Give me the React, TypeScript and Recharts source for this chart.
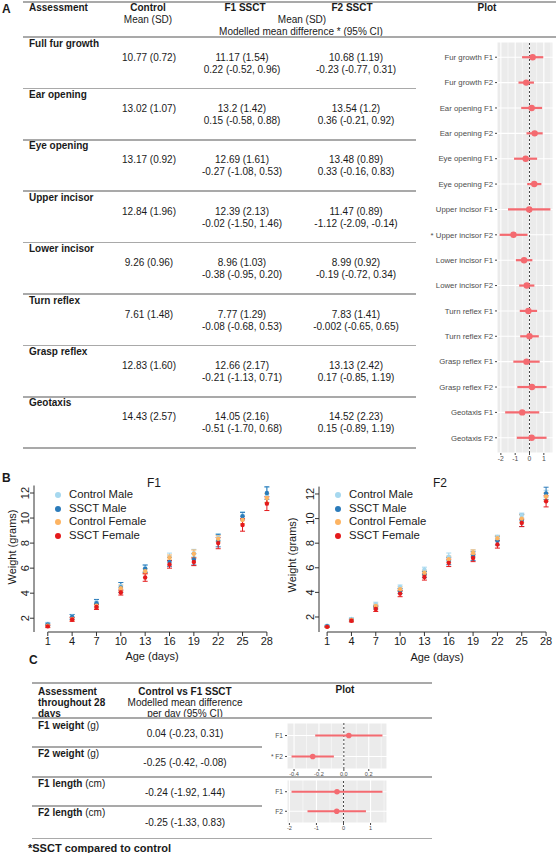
import React from 'react';
import { ScatterChart, Scatter, XAxis, YAxis, CartesianGrid, ErrorBar, ReferenceLine } from 'recharts';

// ---- Panel A: table + forest plot ----
const assessments = ['Full fur growth', 'Ear opening', 'Eye opening', 'Upper incisor', 'Lower incisor', 'Turn reflex', 'Grasp reflex', 'Geotaxis'];
const controlMean = ['10.77 (0.72)', '13.02 (1.07)', '13.17 (0.92)', '12.84 (1.96)', '9.26 (0.96)', '7.61 (1.48)', '12.83 (1.60)', '14.43 (2.57)'];
const f1Mean = ['11.17 (1.54)', '13.2 (1.42)', '12.69 (1.61)', '12.39 (2.13)', '8.96 (1.03)', '7.77 (1.29)', '12.66 (2.17)', '14.05 (2.16)'];
const f1Diff = ['0.22 (-0.52, 0.96)', '0.15 (-0.58, 0.88)', '-0.27 (-1.08, 0.53)', '-0.02 (-1.50, 1.46)', '-0.38 (-0.95, 0.20)', '-0.08 (-0.68, 0.53)', '-0.21 (-1.13, 0.71)', '-0.51 (-1.70, 0.68)'];
const f2Mean = ['10.68 (1.19)', '13.54 (1.2)', '13.48 (0.89)', '11.47 (0.89)', '8.99 (0.92)', '7.83 (1.41)', '13.13 (2.42)', '14.52 (2.23)'];
const f2Diff = ['-0.23 (-0.77, 0.31)', '0.36 (-0.21, 0.92)', '0.33 (-0.16, 0.83)', '-1.12 (-2.09, -0.14)', '-0.19 (-0.72, 0.34)', '-0.002 (-0.65, 0.65)', '0.17 (-0.85, 1.19)', '0.15 (-0.89, 1.19)'];

const forestLabels = ['Fur growth F1', 'Fur growth F2', 'Ear opening F1', 'Ear opening F2', 'Eye opening F1', 'Eye opening F2', 'Upper incisor F1', '* Upper incisor F2', 'Lower incisor F1', 'Lower incisor F2', 'Turn reflex F1', 'Turn reflex F2', 'Grasp reflex F1', 'Grasp reflex F2', 'Geotaxis F1', 'Geotaxis F2'];
const forestEst = [0.22, -0.23, 0.15, 0.36, -0.27, 0.33, -0.02, -1.12, -0.38, -0.19, -0.08, -0.002, -0.21, 0.17, -0.51, 0.15];
const forestLow = [-0.52, -0.77, -0.58, -0.21, -1.08, -0.16, -1.5, -2.09, -0.95, -0.72, -0.68, -0.65, -1.13, -0.85, -1.7, -0.89];
const forestHigh = [0.96, 0.31, 0.88, 0.92, 0.53, 0.83, 1.46, -0.14, 0.2, 0.34, 0.53, 0.65, 0.71, 1.19, 0.68, 1.19];

// ---- Panel B: weights by day ----
const days = [1, 4, 7, 10, 13, 16, 19, 22, 25, 28];
const groupNames = ['Control Male', 'SSCT Male', 'Control Female', 'SSCT Female'];
const groupColors = ['#A6D8EF', '#2B7BBA', '#FDB462', '#E41A1C'];

const f1ControlMale = [1.55, 2.15, 3.3, 4.55, 6.0, 6.9, 7.2, 8.45, 10.2, 11.85];
const f1ControlMaleSd = [0.12, 0.15, 0.2, 0.3, 0.25, 0.3, 0.3, 0.3, 0.3, 0.6];
const f1SsctMale = [1.5, 2.1, 3.2, 4.45, 5.95, 6.5, 6.7, 8.2, 10.15, 12.0];
const f1SsctMaleSd = [0.1, 0.2, 0.3, 0.4, 0.3, 0.35, 0.45, 0.5, 0.3, 0.5];
const f1ControlFemale = [1.4, 1.95, 3.0, 4.4, 5.75, 6.85, 7.15, 8.35, 9.85, 11.6];
const f1ControlFemaleSd = [0.1, 0.15, 0.2, 0.25, 0.2, 0.2, 0.3, 0.25, 0.3, 0.35];
const f1SsctFemale = [1.35, 1.9, 2.9, 4.05, 5.25, 6.3, 6.5, 8.0, 9.45, 11.15];
const f1SsctFemaleSd = [0.1, 0.15, 0.2, 0.2, 0.3, 0.3, 0.3, 0.45, 0.5, 0.55];

const f2ControlMale = [1.3, 1.85, 3.05, 4.45, 5.85, 6.9, 7.15, 8.5, 10.25, 12.0];
const f2ControlMaleSd = [0.08, 0.1, 0.15, 0.15, 0.2, 0.3, 0.3, 0.15, 0.2, 0.3];
const f2SsctMale = [1.25, 1.75, 2.8, 4.1, 5.45, 6.55, 6.95, 8.2, 9.85, 12.05];
const f2SsctMaleSd = [0.05, 0.1, 0.15, 0.2, 0.25, 0.3, 0.35, 0.35, 0.5, 0.5];
const f2ControlFemale = [1.2, 1.75, 2.9, 4.25, 5.6, 6.7, 7.2, 8.4, 10.0, 11.8];
const f2ControlFemaleSd = [0.05, 0.1, 0.15, 0.2, 0.2, 0.25, 0.25, 0.2, 0.3, 0.3];
const f2SsctFemale = [1.2, 1.7, 2.65, 3.9, 5.25, 6.4, 6.8, 7.9, 9.65, 11.4];
const f2SsctFemaleSd = [0.05, 0.1, 0.2, 0.25, 0.25, 0.3, 0.3, 0.3, 0.3, 0.45];

const weightTicks = [2, 4, 6, 8, 10, 12];

// ---- Panel C ----
const cRows = ['F1 weight', 'F2 weight', 'F1 length', 'F2 length'];
const cUnits = ['(g)', '(g)', '(cm)', '(cm)'];
const cDiff = ['0.04 (-0.23, 0.31)', '-0.25 (-0.42, -0.08)', '-0.24 (-1.92, 1.44)', '-0.25 (-1.33, 0.83)'];
const weightLabels = ['F1', '* F2'];
const weightEst = [0.04, -0.25];
const weightLow = [-0.23, -0.42];
const weightHigh = [0.31, -0.08];
const lengthLabels = ['F1', 'F2'];
const lengthEst = [-0.24, -0.25];
const lengthLow = [-1.92, -1.33];
const lengthHigh = [1.44, 0.83];

const SALMON = '#F46A70';
const LINE = '#A9A9A9';
const INK = '#1a1a1a';

const Txt = ({ x, y, children, size = 10, bold = false, align = 'left', color = INK }: any) => (
  <div
    style={{
      position: 'absolute', left: x, top: y, fontSize: size, fontWeight: bold ? 700 : 400, color,
      whiteSpace: 'nowrap', lineHeight: 1,
      transform: `translate(${align === 'center' ? '-50%' : align === 'right' ? '-100%' : '0'}, -50%)`,
    }}
  >
    {children}
  </div>
);

const HLine = ({ x1, x2, y, w = 1.5 }: any) => (
  <div style={{ position: 'absolute', left: x1, top: y - w / 2, width: x2 - x1, height: w, background: LINE }} />
);

// plain svg tick so long category names never wrap
const CatTick = ({ x, y, payload, labels, fs }: any) => (
  <text x={x} y={y} dy="0.35em" textAnchor="end" fontSize={fs} fill="#4D4D4D">
    {labels[payload.value]}
  </text>
);

const Forest = ({ labels, est, low, high, domain, ticks, minor, fmt, width, height, yw, xh, fs, r, bw, margin }: any) => {
  const data = labels.map((l: string, i: number) => ({ pos: i, est: est[i], ci: [est[i] - low[i], high[i] - est[i]] }));
  return (
    <ScatterChart width={width} height={height} margin={margin}>
      <CartesianGrid fill="#EBEBEB" fillOpacity={1} stroke="#FFFFFF" strokeWidth={1.1} />
      {minor.map((m: number) => (
        <ReferenceLine key={m} x={m} stroke="#FFFFFF" strokeWidth={0.5} />
      ))}
      <ReferenceLine x={0} stroke="#333" strokeWidth={0.9} strokeDasharray="2 2" />
      <XAxis type="number" dataKey="est" domain={domain} ticks={ticks} tickFormatter={fmt} allowDataOverflow
        axisLine={false} tickSize={2} tickMargin={1} interval={0} height={xh}
        tick={{ fontSize: fs, fill: '#4D4D4D' }} tickLine={{ stroke: '#444' }} />
      <YAxis type="number" dataKey="pos" domain={[-0.6, labels.length - 0.4]} reversed allowDataOverflow
        ticks={labels.map((_: string, i: number) => i)} interval={0}
        axisLine={false} tickSize={2} tickMargin={2} width={yw}
        tick={<CatTick labels={labels} fs={fs + 1} />} tickLine={{ stroke: '#444' }} />
      <Scatter data={data} fill={SALMON} isAnimationActive={false}
        shape={(p: any) => <circle cx={p.cx} cy={p.cy} r={r} fill={SALMON} />}>
        <ErrorBar dataKey="ci" direction="x" width={0} stroke={SALMON} strokeWidth={bw} />
      </Scatter>
    </ScatterChart>
  );
};

const RotTick = (props: any) => {
  const { x, y, payload } = props;
  return (
    <text x={x + 1} y={y} transform={`rotate(-90 ${x + 1} ${y})`} textAnchor="middle" fontSize={11} fill={INK}>
      {payload.value}
    </text>
  );
};

const Growth = ({ series, xDomain, yDomain, width, height, margin }: any) => (
  <ScatterChart width={width} height={height} margin={margin}>
    <XAxis type="number" dataKey="day" domain={xDomain} ticks={days} interval={0} allowDataOverflow
      axisLine={false} tickSize={4} tickMargin={1} height={28}
      tick={{ fontSize: 11, fill: INK }} tickLine={{ stroke: '#333' }} />
    <YAxis type="number" dataKey="w" domain={yDomain} ticks={weightTicks} interval={0} allowDataOverflow
      axisLine={{ stroke: '#333' }} tickSize={4} tickMargin={2} width={34}
      tick={<RotTick />} tickLine={{ stroke: '#333' }} />
    <ReferenceLine segment={[{ x: days[0], y: yDomain[0] }, { x: days[days.length - 1], y: yDomain[0] }]}
      stroke="#333" ifOverflow="visible" />
    {series.map((s: any) => (
      <Scatter key={s.name} name={s.name}
        data={days.map((d, i) => ({ day: d, w: s.w[i], err: s.sd[i] }))}
        fill={s.color} isAnimationActive={false}
        shape={(p: any) => <circle cx={p.cx} cy={p.cy} r={2.2} fill={s.color} />}>
        <ErrorBar dataKey="err" direction="y" width={2.5} stroke={s.color} strokeWidth={1} />
      </Scatter>
    ))}
  </ScatterChart>
);

const LegendBox = ({ x, y }: any) => (
  <>
    {groupNames.map((n, i) => (
      <React.Fragment key={n}>
        <div style={{ position: 'absolute', left: x - 3, top: y + i * 13.7 - 3, width: 6, height: 6, borderRadius: 3, background: groupColors[i] }} />
        <Txt x={x + 11} y={y + i * 13.7} size={11.3}>{n}</Txt>
      </React.Fragment>
    ))}
  </>
);

const f1Series = [
  { name: groupNames[0], color: groupColors[0], w: f1ControlMale, sd: f1ControlMaleSd },
  { name: groupNames[1], color: groupColors[1], w: f1SsctMale, sd: f1SsctMaleSd },
  { name: groupNames[2], color: groupColors[2], w: f1ControlFemale, sd: f1ControlFemaleSd },
  { name: groupNames[3], color: groupColors[3], w: f1SsctFemale, sd: f1SsctFemaleSd },
];
const f2Series = [
  { name: groupNames[0], color: groupColors[0], w: f2ControlMale, sd: f2ControlMaleSd },
  { name: groupNames[1], color: groupColors[1], w: f2SsctMale, sd: f2SsctMaleSd },
  { name: groupNames[2], color: groupColors[2], w: f2ControlFemale, sd: f2ControlFemaleSd },
  { name: groupNames[3], color: groupColors[3], w: f2SsctFemale, sd: f2SsctFemaleSd },
];

const ROW_H = 51.4;

export default function App() {
  return (
    <div style={{ position: 'absolute', left: 0, top: 0, width: 558, height: 853, overflow: 'hidden', background: '#fff', fontFamily: '"Liberation Sans", Arial, sans-serif', color: INK }}>
      {/* Panel A */}
      <Txt x={2} y={9} size={12} bold>A</Txt>
      <HLine x1={23} x2={556} y={2} />
      <Txt x={29} y={8} bold>Assessment</Txt>
      <Txt x={148} y={8} bold align="center">Control</Txt>
      <Txt x={245} y={8} bold align="center">F1 SSCT</Txt>
      <Txt x={352} y={8} bold align="center">F2 SSCT</Txt>
      <Txt x={487} y={8} bold align="center">Plot</Txt>
      <Txt x={148} y={20} align="center">Mean (SD)</Txt>
      <Txt x={302} y={20} align="center">Mean (SD)</Txt>
      <Txt x={301} y={32} align="center">Modelled mean difference * (95% CI)</Txt>
      <HLine x1={23} x2={556} y={37} />
      {assessments.map((a, i) => {
        const top = 37 + i * ROW_H;
        return (
          <React.Fragment key={a}>
            <Txt x={29} y={top + 6.5} bold>{a}</Txt>
            <Txt x={149} y={top + 20.5} align="center">{controlMean[i]}</Txt>
            <Txt x={242} y={top + 20.5} align="center">{f1Mean[i]}</Txt>
            <Txt x={242} y={top + 32.5} align="center">{f1Diff[i]}</Txt>
            <Txt x={356} y={top + 20.5} align="center">{f2Mean[i]}</Txt>
            <Txt x={356} y={top + 32.5} align="center">{f2Diff[i]}</Txt>
            <HLine x1={23} x2={416} y={top + ROW_H} />
          </React.Fragment>
        );
      })}
      <div style={{ position: 'absolute', left: 400, top: 38 }}>
        <Forest labels={forestLabels} est={forestEst} low={forestLow} high={forestHigh}
          domain={[-2.27, 1.64]} ticks={[-2, -1, 0, 1]} minor={[-1.5, -0.5, 0.5, 1.5]} fmt={(v: number) => String(v)}
          width={158} height={430} yw={97} xh={15} fs={6.8} r={3.2} bw={2.2}
          margin={{ top: 4, right: 5, bottom: 0, left: 0 }} />
      </div>

      {/* Panel B */}
      <Txt x={2} y={478} size={12} bold>B</Txt>
      <div style={{ position: 'absolute', left: 0, top: 480 }}>
        <Growth series={f1Series} xDomain={[-0.7, 29]} yDomain={[0.9, 12.6]} width={290} height={180}
          margin={{ top: 5.5, right: 15, bottom: 0, left: 0 }} />
      </div>
      <div style={{ position: 'absolute', left: 285, top: 480 }}>
        <Growth series={f2Series} xDomain={[0, 29.1]} yDomain={[0.78, 12.6]} width={272} height={180}
          margin={{ top: 6.6, right: 2, bottom: 0, left: 0 }} />
      </div>
      <Txt x={154} y={483} size={12} align="center">F1</Txt>
      <Txt x={440} y={483} size={12} align="center">F2</Txt>
      <LegendBox x={58} y={495} />
      <LegendBox x={338} y={495} />
      <Txt x={152} y={656} size={11} align="center">Age (days)</Txt>
      <Txt x={437} y={657} size={11} align="center">Age (days)</Txt>
      <div style={{ position: 'absolute', left: 12, top: 547, fontSize: 11, whiteSpace: 'nowrap', lineHeight: 1, transform: 'translate(-50%, -50%) rotate(-90deg)' }}>Weight (grams)</div>
      <div style={{ position: 'absolute', left: 292, top: 555, fontSize: 11, whiteSpace: 'nowrap', lineHeight: 1, transform: 'translate(-50%, -50%) rotate(-90deg)' }}>Weight (grams)</div>

      {/* Panel C */}
      <Txt x={29} y={660} size={12} bold>C</Txt>
      <HLine x1={32} x2={432} y={683} />
      <Txt x={38} y={691.5} bold>Assessment</Txt>
      <Txt x={38} y={702.5} bold>throughout 28</Txt>
      <Txt x={38} y={713.5} bold>days</Txt>
      <Txt x={185} y={691.5} bold align="center">Control vs F1 SSCT</Txt>
      <Txt x={185} y={702.5} align="center">Modelled mean difference</Txt>
      <Txt x={185} y={713.5} align="center">per day (95% CI)</Txt>
      <Txt x={345} y={690} bold align="center">Plot</Txt>
      <HLine x1={32} x2={432} y={718} />
      {cRows.map((c, i) => {
        const tops = [726, 754, 784, 813];
        const vals = [734, 763, 793, 823];
        return (
          <React.Fragment key={c}>
            <Txt x={38} y={tops[i]}><b>{c}</b> {cUnits[i]}</Txt>
            <Txt x={185} y={vals[i]} align="center">{cDiff[i]}</Txt>
          </React.Fragment>
        );
      })}
      <HLine x1={32} x2={262} y={747} />
      <HLine x1={32} x2={432} y={777} />
      <HLine x1={32} x2={262} y={806} />
      <HLine x1={32} x2={432} y={838.5} />
      <div style={{ position: 'absolute', left: 230, top: 719 }}>
        <Forest labels={weightLabels} est={weightEst} low={weightLow} high={weightHigh}
          domain={[-0.4565, 0.3465]} ticks={[-0.4, -0.2, 0, 0.2]} minor={[-0.3, -0.1, 0.1, 0.3]} fmt={(v: number) => v.toFixed(1)}
          width={160} height={62} yw={57} xh={12} fs={5.6} r={2.8} bw={2}
          margin={{ top: 4, right: 3, bottom: 0, left: 0 }} />
      </div>
      <div style={{ position: 'absolute', left: 230, top: 776 }}>
        <Forest labels={lengthLabels} est={lengthEst} low={lengthLow} high={lengthHigh}
          domain={[-2.088, 1.608]} ticks={[-2, -1, 0, 1]} minor={[-1.5, -0.5, 0.5, 1.5]} fmt={(v: number) => String(v)}
          width={160} height={59} yw={57} xh={12} fs={5.6} r={2.8} bw={2}
          margin={{ top: 4, right: 3, bottom: 0, left: 0 }} />
      </div>
      <Txt x={28} y={848} size={11} bold>*SSCT compared to control</Txt>
    </div>
  );
}
